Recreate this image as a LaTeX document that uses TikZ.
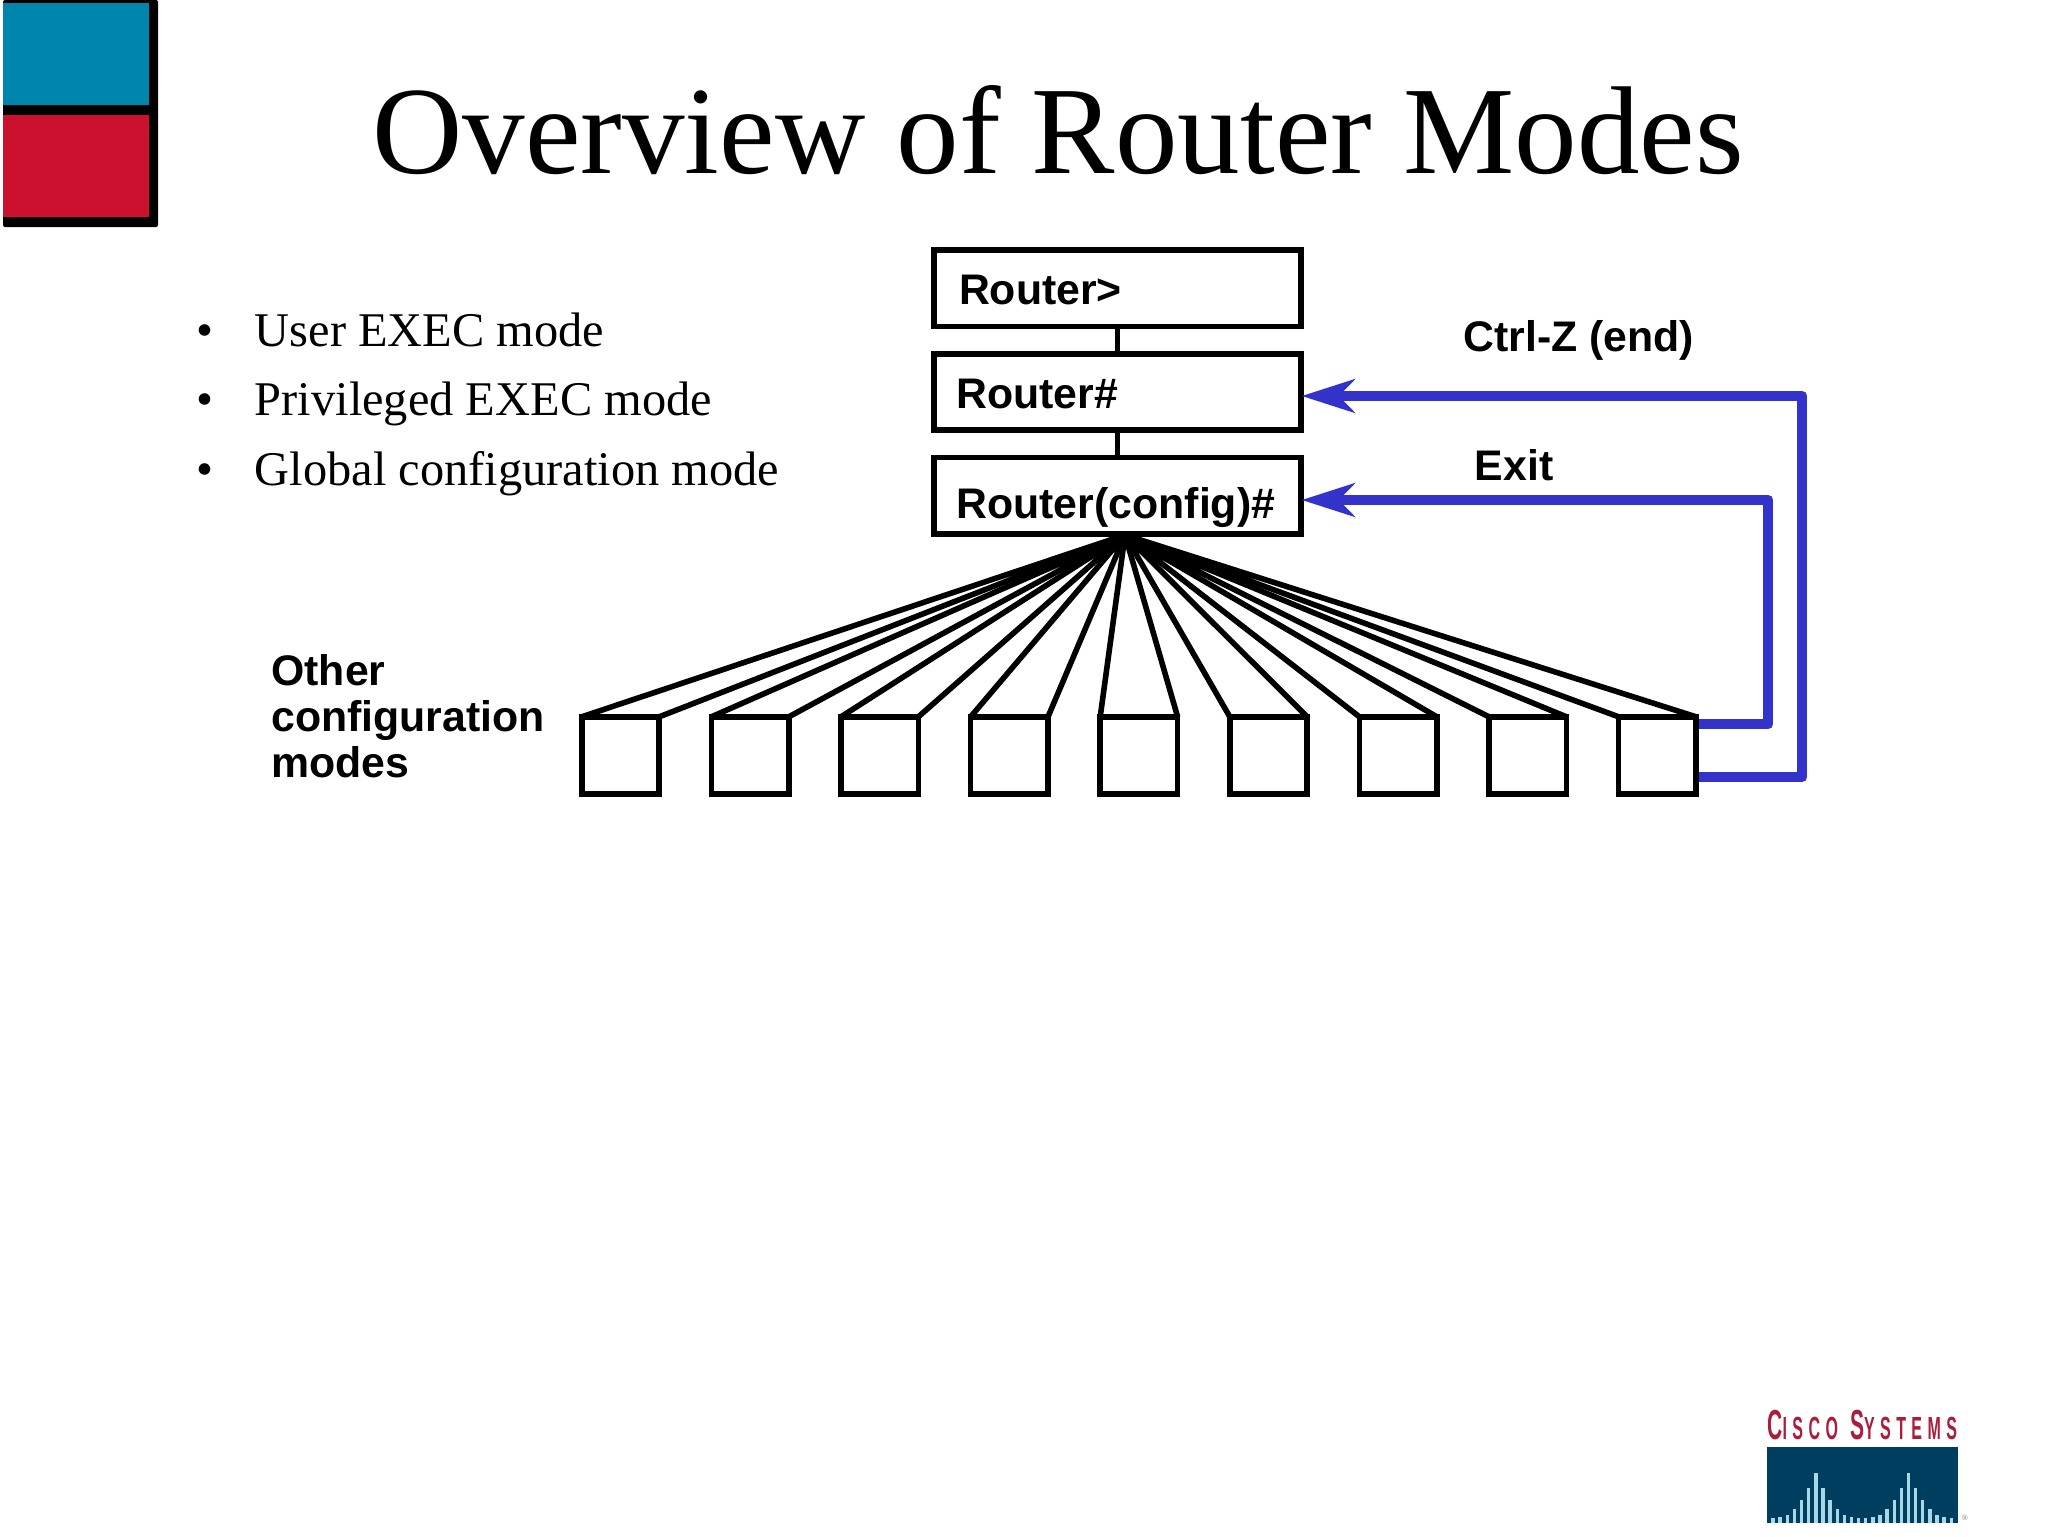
\documentclass[tikz,border=0pt]{standalone}
\usepackage{fontspec}
\setmainfont{Liberation Serif}
\newfontfamily\labelfont{Liberation Sans Bold}
\newfontfamily\logofont[FakeStretch=0.5,LetterSpace=17]{Liberation Sans Bold}
\usetikzlibrary{arrows.meta}
\definecolor{slideteal}{RGB}{0,134,172}
\definecolor{slidered}{RGB}{204,17,46}
\definecolor{backblue}{RGB}{51,51,204}
\definecolor{logored}{RGB}{170,30,60}
\definecolor{logoblue}{RGB}{0,62,96}
\definecolor{logobar}{RGB}{170,215,232}
\tikzset{
  modebox/.style={draw=black, line width=2.8pt, fill=white, minimum height=38.2pt, inner xsep=11.35pt, inner ysep=0pt, text width=161pt, text height=16.5pt, text depth=0pt, align=left, font=\labelfont\fontsize{21.4}{23}\selectfont},
  subbox/.style={draw=black, line width=2.8pt, fill=white, minimum width=38.7pt, minimum height=38.7pt, inner sep=0pt, outer sep=0pt},
  fanline/.style={draw=black, line width=2.8pt, line join=round},
  backline/.style={draw=backblue, line width=5.4pt, line join=round, -{Stealth[length=26.5pt, width=16.7pt, inset=8pt]}},
  caption/.style={font=\labelfont\fontsize{21.4}{23}\selectfont, anchor=base west, inner sep=0pt},
  bullettext/.style={font=\fontsize{24.2}{26}\selectfont, anchor=base west, inner sep=0pt}
}
\begin{document}
\begin{tikzpicture}[x=0.5pt, y=-0.5pt]
  \useasboundingbox (0,0) rectangle (2048,1536);
  % corner squares
  \fill[black, rounded corners=1pt] (3,0) rectangle (158,227);
  \fill[slideteal] (3,3) rectangle (149,105);
  \fill[slidered] (3,115) rectangle (149,217);
  % title and list
  \node[font=\fontsize{62.5}{68}\selectfont, anchor=base, inner sep=0pt] (title) at (1058,173.5) {Overview of Router Modes};
  \foreach \ypos/\entry [count=\i] in {346/User EXEC mode, 415.5/Privileged EXEC mode, 485/Global configuration mode} {
    \node[bullettext] (dot\i) at (196.5,\ypos) {\textbullet};
    \node[bullettext] (item\i) at (254.5,\ypos) {\entry};
  }
  % config modes
  \coordinate (apex) at (1125,535);
  \foreach \i in {1,...,9} {
    \node[subbox] (sub\i) at ({620.5+129.6*(\i-1)},755.5) {};
    \draw[fanline] (sub\i.north west) -- (apex) -- (sub\i.north east);
  }
  \node[caption, align=left, anchor=north west] (other) at (271,654) {Other\\configuration\\modes};
  % modes
  \node[modebox] (rtruser) at (1117.5,288.25) {\hspace*{1.25pt}Router>};
  \node[modebox] (rtrpriv) at (1117.5,392) {Router\#};
  \node[modebox] (rtrconf) at (1117.5,495.5) {\raisebox{-3pt}{Router(config)\#}};
  \draw[line width=2.8pt] (rtruser) -- (rtrpriv);
  \draw[line width=2.8pt] (rtrpriv) -- (rtrconf);
  % way back
  \coordinate (exitbend) at (1768,500);
  \coordinate (endbend) at (1802,396);
  \draw[backline] ([xshift=1.4pt,yshift=15.75pt]sub9.east) -| (exitbend) -- ([xshift=-1.2pt,yshift=-2.25pt]rtrconf.east);
  \draw[backline] ([xshift=1.4pt,yshift=-10.75pt]sub9.east) -| (endbend) -- ([xshift=-1.2pt,yshift=-2pt]rtrpriv.east);
  \node[caption] (ctrlz) at (1463,351) {Ctrl-Z (end)};
  \node[caption] (exit) at (1474.5,480) {Exit};
  % logo
  \node[anchor=base west, inner sep=0pt, text=logored, font=\logofont\fontsize{21}{21}\selectfont] (logoname) at (1767,1439) {C\fontsize{16}{16}\selectfont ISCO\hspace{6pt}\fontsize{21}{21}\selectfont S\fontsize{16}{16}\selectfont YSTEMS};
  \fill[logoblue] (1767,1447) rectangle (1958,1523);
  \foreach \j/\h in {0/16,1/18,2/25,3/43,4/68,5/105,6/151,7/105,8/68,9/43,10/25,11/18,12/16,13/16,14/18,15/25,16/43,17/68,18/105,19/151,20/105,21/68,22/43,23/25,24/18,25/16} {
    \fill[logobar] ({1773+7.13*\j-1.7},1523) rectangle ({1773+7.13*\j+1.7},{1523-\h/3});
  }
  \node[inner sep=0pt, text=gray, font=\fontsize{4}{4}\selectfont] (logomark) at (1965,1518) {\textregistered};
\end{tikzpicture}
\end{document}
